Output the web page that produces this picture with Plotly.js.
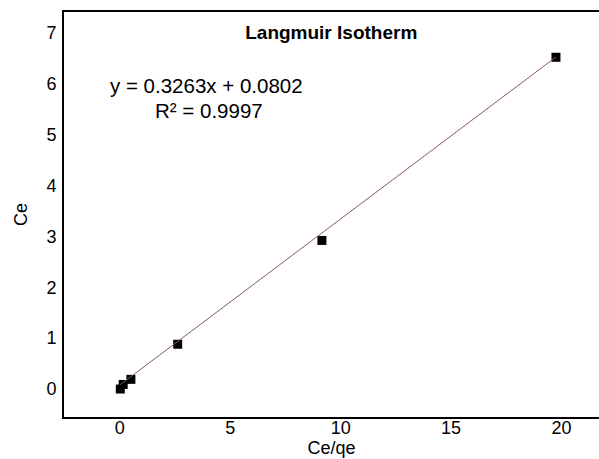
<!DOCTYPE html>
<html>
<head>
<meta charset="utf-8">
<script src="https://cdn.plot.ly/plotly-3.0.1.min.js"></script>
<style>html,body{margin:0;padding:0;background:#fff;}#chart{width:599px;height:459px;}</style>
</head>
<body>
<div id="chart"></div>
<script>
// Data
const ceqe = [0.02, 0.15, 0.5, 2.62, 9.15, 19.75];
const ce = [0.0, 0.09, 0.19, 0.88, 2.92, 6.52];
const slope = 0.3263;
const intercept = 0.0802;
const r2 = 0.9997;
const xTicks = [0, 5, 10, 15, 20];
const yTicks = [0, 1, 2, 3, 4, 5, 6, 7];

const xMin = Math.min(...ceqe), xMax = Math.max(...ceqe);
const fitX = [xMin, xMax];
const fitY = fitX.map(v => slope * v + intercept);

const font = {family: 'Liberation Sans, Arial, sans-serif', color: '#000'};

const data = [
  {x: ceqe, y: ce, type: 'scatter', mode: 'markers',
   marker: {symbol: 'square', size: 9, color: '#000'}, showlegend: false, cliponaxis: false},
  {x: fitX, y: fitY, type: 'scatter', mode: 'lines',
   line: {color: '#8a5a5a', width: 1}, showlegend: false}
];

const layout = {
  width: 599, height: 459,
  margin: {l: 64, r: 0, t: 12, b: 42},
  paper_bgcolor: '#fff', plot_bgcolor: '#fff',
  font: Object.assign({size: 18}, font),
  title: {text: '<b>Langmuir Isotherm</b>', font: Object.assign({size: 19}, font),
          x: 0.553, xanchor: 'center', y: 0.93, yanchor: 'middle'},
  xaxis: {range: [-2.53, 21.7], tickvals: xTicks, ticktext: xTicks.map(String),
          showgrid: false, zeroline: false, showline: true, mirror: true,
          linecolor: '#000', linewidth: 2, ticks: '', ticklabelstandoff: -7,
          tickfont: Object.assign({size: 18}, font),
          title: {text: 'Ce/qe', font: Object.assign({size: 18}, font), standoff: 0}},
  yaxis: {range: [-0.55, 7.41], tickvals: yTicks, ticktext: yTicks.map(String),
          showgrid: false, zeroline: false, showline: true, mirror: false,
          linecolor: '#000', linewidth: 2, ticks: '', ticklabelstandoff: 2,
          tickfont: Object.assign({size: 18}, font),
          title: {text: 'Ce', font: Object.assign({size: 18}, font), standoff: 14}},
  annotations: [
    {xref: 'paper', yref: 'paper', x: (206 - 64) / 535, y: (417 - 86) / 405,
     text: 'y = ' + slope + 'x + ' + intercept, showarrow: false,
     font: Object.assign({size: 20.5}, font), xanchor: 'center', yanchor: 'middle'},
    {xref: 'paper', yref: 'paper', x: (209 - 64) / 535, y: (417 - 110) / 405,
     text: 'R² = ' + r2, showarrow: false,
     font: Object.assign({size: 20.5}, font), xanchor: 'center', yanchor: 'middle'}
  ]
};

Plotly.newPlot('chart', data, layout, {displayModeBar: false, staticPlot: true});
</script>
</body>
</html>
